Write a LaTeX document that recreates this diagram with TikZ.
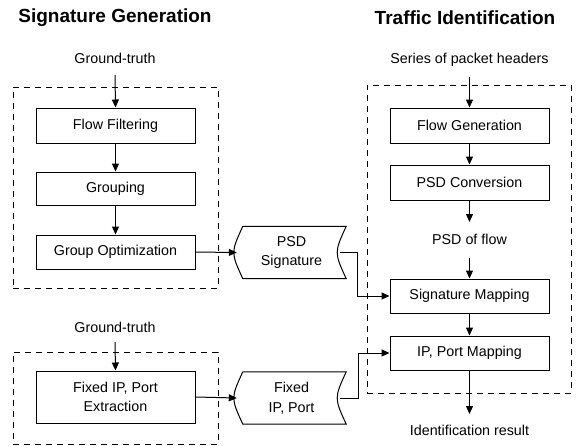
\documentclass[tikz,border=0pt]{standalone}
\usepackage{fontspec}
\setmainfont{Liberation Sans}
\usetikzlibrary{arrows.meta}
\begin{document}
\begin{tikzpicture}[x=1pt,y=-1pt,
  font=\fontsize{14.3}{19.5}\selectfont,
  proc/.style={draw, line width=1pt, minimum width=159pt, inner sep=0pt, align=center},
  store/.style={draw=none, minimum width=109pt, minimum height=52pt, inner sep=0pt, align=center},
  lbl/.style={inner sep=0pt, align=center},
  title/.style={inner sep=0pt, font=\fontsize{19}{22}\selectfont\bfseries},
  grp/.style={draw, line width=0.9pt, dash pattern=on 6pt off 5pt},
  arr/.style={line width=1pt, -{Triangle[length=8pt,width=7pt]}},
  ln/.style={line width=1pt}]
\useasboundingbox (0,0) rectangle (579,445);
\newcommand{\storageshape}[1]{%
  \draw[line width=1pt] ([xshift=6pt]#1.north west) -- (#1.north east)
    .. controls ([xshift=-12pt]#1.east) .. (#1.south east)
    -- ([xshift=6pt]#1.south west)
    .. controls ([xshift=-6pt]#1.west) .. ([xshift=6pt]#1.north west);}

% titles
\node[title] (t1) at (115,18) {Signature Generation};
\node[title] (t2) at (465,18) {Traffic Identification};

% left top group
\node[grp, minimum width=205pt, minimum height=201pt] (g1) at (115.5,187.5) {};
\node[lbl] (gt1) at (115,58) {Ground-truth};
\coordinate (gt1s) at (115,75);
\node[proc, minimum height=35pt] (ff) at (115.5,125.5) {Flow Filtering};
\node[proc, minimum height=33pt] (gr) at (115.5,188.5) {Grouping};
\node[proc, minimum height=34pt] (go) at (115.5,252) {Group Optimization};
\draw[arr] (gt1s) -- (ff.north);
\draw[arr] (ff) -- (gr);
\draw[arr] (gr) -- (go);

\node[store] (psd) at (291.5,252.5) {PSD\\Signature};
\storageshape{psd}
\draw[arr] (go.east) -- (psd.west);

% bottom left group
\node[grp, minimum width=205pt, minimum height=92pt] (g2) at (115.5,398) {};
\node[lbl] (gt2) at (115,327) {Ground-truth};
\coordinate (gt2s) at (115,342);
\node[proc, minimum height=52pt] (fx) at (115.5,397) {Fixed IP, Port\\Extraction};
\draw[arr] (gt2s) -- (fx.north);

\node[store] (fip) at (291.5,398) {Fixed\\IP, Port};
\storageshape{fip}
\draw[arr] (fx.east) -- (fip.west);

% right group
\node[grp, minimum width=204pt, minimum height=308pt] (g3) at (469,239) {};
\node[lbl] (sph) at (469.5,60) {Series of packet headers};
\coordinate (sphs) at (469.5,77);
\node[proc, minimum height=35pt] (fg) at (469.5,125.5) {Flow Generation};
\node[proc, minimum height=35pt] (pc) at (469.5,182.5) {PSD Conversion};
\node[lbl] (pof) at (469.5,239) {PSD of flow};
\coordinate (pofa) at (469.5,222);
\coordinate (pofb) at (469.5,258);
\node[proc, minimum height=34pt] (sm) at (469.5,296) {Signature Mapping};
\node[proc, minimum height=34pt] (ipm) at (469.5,353) {IP, Port Mapping};
\coordinate (res) at (469.5,414);
\node[lbl] (ir) at (469.5,430) {Identification result};

\draw[arr] (sphs) -- (fg.north);
\draw[arr] (fg) -- (pc);
\draw[arr] (pc.south) -- (pofa);
\draw[arr] (pofb) -- (sm.north);
\draw[arr] (sm) -- (ipm);
\draw[arr] (ipm.south) -- (res);

% cross connectors
\draw[arr] ([xshift=-6pt]psd.east) -- (357,252.5) |- (sm.west);
\draw[arr] ([xshift=-6pt]fip.east) -- (358,398) |- (ipm.west);
\end{tikzpicture}
\end{document}
